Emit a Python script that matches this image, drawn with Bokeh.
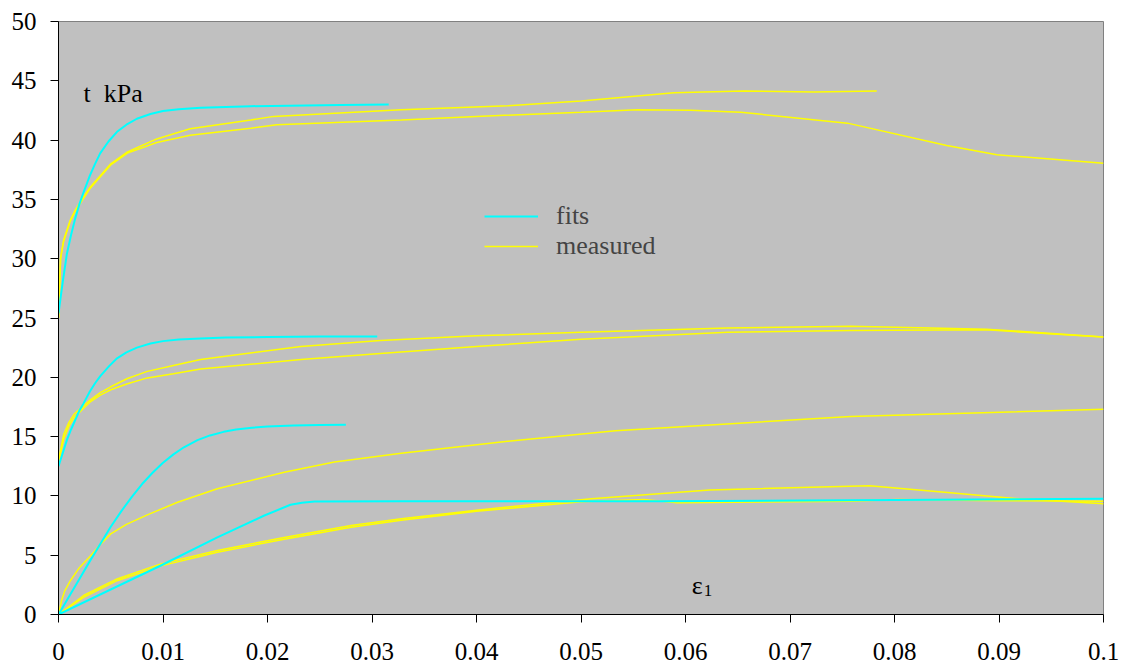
from bokeh.plotting import figure
from bokeh.models import Range1d, FixedTicker, Legend, LegendItem, Label
from bokeh.embed import file_html
from bokeh.resources import INLINE

# ---- data ----
x_ticks = [0, 0.01, 0.02, 0.03, 0.04, 0.05, 0.06, 0.07, 0.08, 0.09, 0.1]
x_tick_labels = ["0", "0.01", "0.02", "0.03", "0.04", "0.05", "0.06", "0.07", "0.08", "0.09", "0.1"]
y_ticks = [0, 5, 10, 15, 20, 25, 30, 35, 40, 45, 50]

fit1_x = [0, 0.0004, 0.0008, 0.0012, 0.0016, 0.002, 0.0024, 0.003, 0.0035, 0.004, 0.0048, 0.0056,
          0.0065, 0.0075, 0.0088, 0.01, 0.0115, 0.0136, 0.016, 0.0184, 0.022, 0.027, 0.0316]
fit1_y = [25.4, 28.0, 30.4, 32.0, 33.4, 34.6, 35.6, 37.0, 38.0, 38.9, 39.9, 40.7,
          41.3, 41.8, 42.2, 42.45, 42.6, 42.72, 42.8, 42.86, 42.9, 42.95, 43.0]

meas1a_x = [0, 0.0002, 0.0005, 0.0011, 0.0016, 0.0024, 0.003, 0.004, 0.005, 0.0066, 0.0094, 0.0126,
            0.0184, 0.0206, 0.0328, 0.043, 0.05, 0.0589, 0.0656, 0.0723, 0.0783]
meas1a_y = [25.0, 30.1, 31.6, 33.2, 34.1, 35.2, 36.0, 37.0, 38.0, 39.0, 40.1, 40.95,
            41.7, 42.0, 42.55, 42.9, 43.3, 44.0, 44.15, 44.05, 44.15]

meas1b_x = [0, 0.0002, 0.0005, 0.0011, 0.0016, 0.0024, 0.003, 0.004, 0.005, 0.0066, 0.0094, 0.0126,
            0.0184, 0.0209, 0.0328, 0.04, 0.05, 0.0554, 0.0605, 0.0653, 0.0755, 0.085, 0.0898, 0.1]
meas1b_y = [25.0, 30.0, 31.5, 33.1, 34.0, 35.1, 35.9, 36.9, 37.9, 38.9, 39.8, 40.4,
            41.0, 41.3, 41.7, 42.0, 42.35, 42.55, 42.52, 42.35, 41.43, 39.55, 38.76, 38.05]

fit2_x = [0, 0.0004, 0.0008, 0.0012, 0.0016, 0.002, 0.0024, 0.003, 0.0035, 0.004, 0.0048, 0.0056,
          0.0065, 0.0075, 0.0088, 0.01, 0.0115, 0.0136, 0.016, 0.02, 0.025, 0.0305]
fit2_y = [12.5, 13.6, 14.7, 15.6, 16.4, 17.2, 17.8, 18.8, 19.5, 20.1, 20.9, 21.6,
          22.1, 22.5, 22.85, 23.05, 23.18, 23.28, 23.35, 23.4, 23.43, 23.45]

meas2a_x = [0, 0.0005, 0.001, 0.0015, 0.0024, 0.003, 0.004, 0.005, 0.0066, 0.0085, 0.011, 0.0136,
            0.0232, 0.0308, 0.04, 0.05, 0.064, 0.0758, 0.0888, 0.1]
meas2a_y = [13.0, 15.2, 16.2, 16.9, 17.6, 18.05, 18.7, 19.2, 19.9, 20.5, 21.0, 21.5,
            22.6, 23.1, 23.5, 23.8, 24.15, 24.3, 24.06, 23.4]

meas2b_x = [0, 0.0005, 0.001, 0.0015, 0.0024, 0.003, 0.004, 0.005, 0.0066, 0.0085, 0.011, 0.0136,
            0.0232, 0.0308, 0.04, 0.05, 0.064, 0.0758, 0.0888, 0.1]
meas2b_y = [12.8, 14.8, 15.9, 16.6, 17.4, 17.9, 18.5, 18.95, 19.45, 19.95, 20.3, 20.7,
            21.5, 22.0, 22.6, 23.2, 23.8, 23.95, 24.0, 23.4]

fit3_x = [0, 0.001, 0.002, 0.003, 0.004, 0.005, 0.006, 0.007, 0.008, 0.009, 0.01, 0.011,
          0.012, 0.0133, 0.0145, 0.0158, 0.017, 0.0185, 0.02, 0.0225, 0.025, 0.0275]
fit3_y = [0, 1.5, 3.0, 4.5, 5.95, 7.4, 8.7, 9.9, 11.0, 11.95, 12.8, 13.5,
          14.1, 14.7, 15.1, 15.4, 15.6, 15.75, 15.85, 15.93, 15.98, 16.0]

meas3_x = [0, 0.0003, 0.0006, 0.00115, 0.002, 0.0031, 0.004, 0.005, 0.0065, 0.0085, 0.0114, 0.0152,
           0.0216, 0.0264, 0.0328, 0.043, 0.0533, 0.0758, 0.1]
meas3_y = [0, 1.2, 2.0, 2.87, 3.95, 4.97, 5.9, 6.8, 7.6, 8.4, 9.47, 10.6,
           12.0, 12.85, 13.6, 14.6, 15.5, 16.7, 17.3]

fit4_x = [0, 0.0098, 0.0152, 0.0197, 0.0222, 0.0233, 0.0245, 0.0328, 0.058, 0.08, 0.1]
fit4_y = [0, 4.13, 6.5, 8.35, 9.25, 9.42, 9.52, 9.55, 9.55, 9.65, 9.75]

meas4a_x = [0, 0.0024, 0.0056, 0.0098, 0.0152, 0.0216, 0.028, 0.0328, 0.04, 0.051, 0.0623, 0.0776,
            0.0848, 0.092, 0.1]
meas4a_y = [0, 1.6, 3.0, 4.27, 5.4, 6.5, 7.5, 8.07, 8.8, 9.75, 10.5, 10.85,
            10.3, 9.75, 9.33]

meas4b_x = [0, 0.0024, 0.0056, 0.0098, 0.0152, 0.0216, 0.028, 0.0328, 0.04, 0.05, 0.056, 0.0592,
            0.0758, 0.0803, 0.09, 0.1]
meas4b_y = [0, 1.45, 2.85, 4.1, 5.25, 6.35, 7.35, 7.95, 8.7, 9.5, 9.7, 9.42,
            9.55, 9.7, 9.6, 9.55]

fits = [(fit1_x, fit1_y), (fit2_x, fit2_y), (fit3_x, fit3_y), (fit4_x, fit4_y)]
measured = [(meas1a_x, meas1a_y), (meas1b_x, meas1b_y), (meas2a_x, meas2a_y), (meas2b_x, meas2b_y),
            (meas3_x, meas3_y), (meas4a_x, meas4a_y), (meas4b_x, meas4b_y)]

FONT = "Liberation Serif"
CYAN = "#00FFFF"
YELLOW = "#FFFF00"

p = figure(width=1122, height=668, output_backend="svg", toolbar_location=None,
           x_range=Range1d(0, 0.1), y_range=Range1d(0, 50),
           min_border_left=58, min_border_top=21, min_border_right=19, min_border_bottom=54)
p.background_fill_color = "#C0C0C0"
p.border_fill_color = "white"
p.outline_line_color = "#808080"
p.outline_line_width = 1
p.xgrid.visible = False
p.ygrid.visible = False

for ax in (p.xaxis[0], p.yaxis[0]):
    ax.axis_line_color = "black"
    ax.major_tick_line_color = "black"
    ax.minor_tick_line_color = None
    ax.major_tick_in = 0
    ax.major_tick_out = 8
    ax.major_label_text_font = FONT
    ax.major_label_text_font_size = "25px"
    ax.major_label_text_color = "black"

p.xaxis[0].ticker = FixedTicker(ticks=x_ticks)
p.xaxis[0].major_label_overrides = {t: l for t, l in zip(x_ticks, x_tick_labels)}
p.xaxis[0].major_label_standoff = 20
p.yaxis[0].ticker = FixedTicker(ticks=y_ticks)
p.yaxis[0].major_label_standoff = 14

# measured first (under), fits on top
meas_renderers = []
for mx, my in measured:
    meas_renderers.append(p.line(mx, my, line_color=YELLOW, line_width=1.5))
fit_renderers = []
for fx, fy in fits:
    fit_renderers.append(p.line(fx, fy, line_color=CYAN, line_width=2))

legend = Legend(items=[LegendItem(label="fits", renderers=[fit_renderers[0]]),
                       LegendItem(label="measured", renderers=[meas_renderers[0]])],
                location=(426, 353), background_fill_alpha=0, border_line_alpha=0,
                label_text_font=FONT, label_text_font_size="26px",
                glyph_width=54, glyph_height=30, label_height=30, spacing=0,
                padding=0, margin=0, label_standoff=18)
p.add_layout(legend)

p.add_layout(Label(x=0.0024, y=43.9, text="t\u00a0\u00a0kPa", text_font=FONT,
                   text_font_size="26px", text_baseline="alphabetic", text_color="black"))
p.add_layout(Label(x=0.0606, y=2.45, text="ε", text_font=FONT,
                   text_font_size="26px", text_baseline="alphabetic", text_color="black"))
p.add_layout(Label(x=0.0606, y=2.0, x_offset=12, text="1", text_font=FONT,
                   text_font_size="17px", text_baseline="alphabetic", text_color="black"))

open("out.html", "w").write(file_html(p, INLINE))
